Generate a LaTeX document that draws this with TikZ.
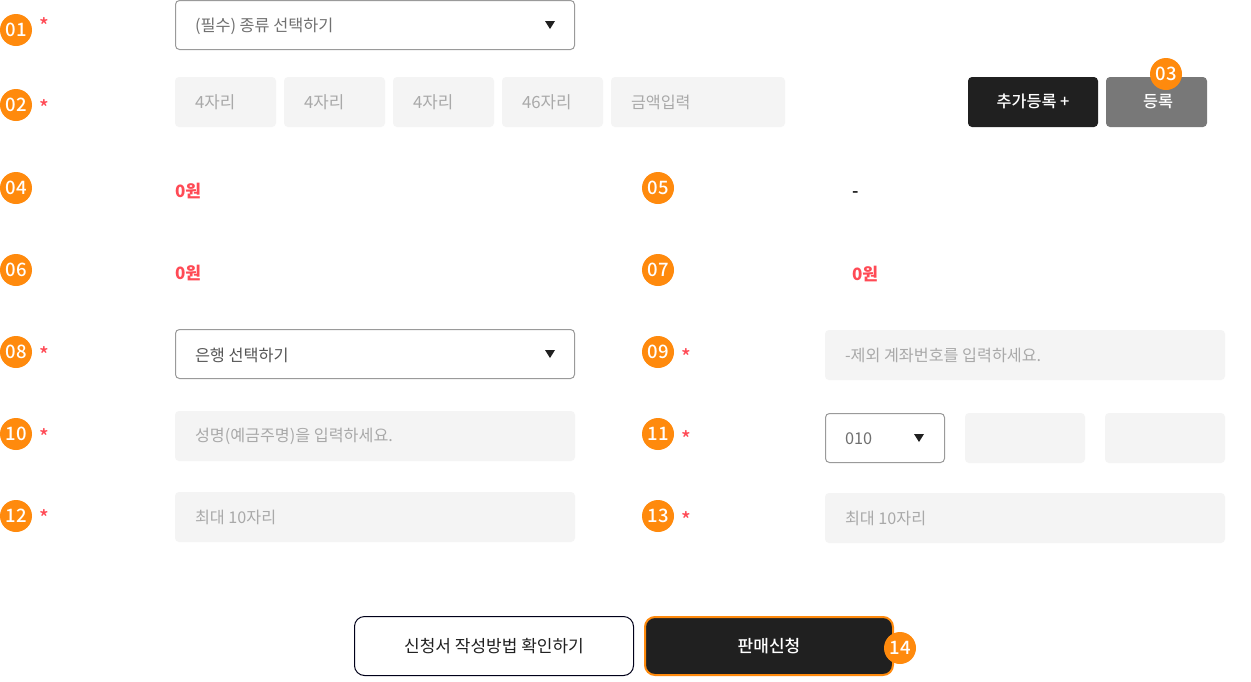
\documentclass[tikz,border=0pt]{standalone}
\usepackage{fontspec}
\setmainfont{Noto Sans CJK KR}
\newfontfamily\medfont{Noto Sans CJK KR Medium}
\definecolor{badge}{HTML}{FF8A0D}
\definecolor{fieldbg}{HTML}{F4F4F4}
\definecolor{hint}{HTML}{A9A9A9}
\definecolor{selborder}{HTML}{9A9A9A}
\definecolor{seltext}{HTML}{707070}
\definecolor{seldark}{HTML}{555555}
\definecolor{darkbtn}{HTML}{202020}
\definecolor{graybtn}{HTML}{787878}
\definecolor{redtext}{HTML}{FF4A55}
\tikzset{
  x=1pt,y=-1pt,
  every node/.style={outer sep=0pt},
  badgenode/.style={circle,fill=badge,minimum size=32pt,inner sep=0pt,text=white,font=\medfont\fontsize{18.5}{18}\selectfont},
  star/.style={text=redtext,font=\medfont\fontsize{20}{20}\selectfont,inner sep=0pt},
  selbox/.style={draw=selborder,fill=white,line width=1pt,rounded corners=4pt,anchor=north west,inner sep=0pt},
  field/.style={fill=fieldbg,rounded corners=4pt,anchor=north west,inner sep=0pt},
  hinttext/.style={text=hint,anchor=west,inner sep=0pt,font=\fontsize{16.2}{16}\selectfont},
  seltxt/.style={text=seltext,anchor=west,inner sep=0pt,font=\fontsize{16.3}{16}\selectfont},
  amount/.style={text=redtext,anchor=west,inner sep=0pt,font=\fontsize{17}{16}\selectfont\bfseries},
  arrowtri/.style={fill=darkbtn},
}
\newcommand{\fieldbox}[5]{% name x y w h
  \node[field,minimum width=#4pt,minimum height=#5pt] (#1) at (#2,#3) {};}
\newcommand{\selectbox}[5]{%
  \node[selbox,minimum width=#4pt,minimum height=#5pt] (#1) at (#2,#3) {};}
\newcommand{\tri}[2]{\fill[arrowtri] (#1-5,#2-4) -- (#1+5,#2-4) -- (#1,#2+4) -- cycle;}
\begin{document}
\begin{tikzpicture}
\useasboundingbox (0,0) rectangle (1251,681);
\fill[white] (0,0) rectangle (1251,681);
% row 1
\selectbox{s1}{175.5}{0.5}{399}{49}
\node[seltxt] (s1t) at (195,26) {(필수) 종류 선택하기};
\tri{550}{25}
% row 2
\fieldbox{f1}{175}{77}{101}{50}
\fieldbox{f2}{284}{77}{101}{50}
\fieldbox{f3}{393}{77}{101}{50}
\fieldbox{f4}{502}{77}{101}{50}
\fieldbox{f5}{611}{77}{174}{50}
\node[hinttext] (f1t) at (195,102.5) {\fontsize{16.8}{16}\selectfont 4자리};
\node[hinttext] (f2t) at (304,102.5) {\fontsize{16.8}{16}\selectfont 4자리};
\node[hinttext] (f3t) at (413,102.5) {\fontsize{16.8}{16}\selectfont 4자리};
\node[hinttext] (f4t) at (522,102.5) {\fontsize{16.8}{16}\selectfont 46자리};
\node[hinttext] (f5t) at (631,102.5) {금액입력};
\node[fill=darkbtn,rounded corners=4pt,anchor=north west,minimum width=130pt,minimum height=50pt,inner sep=0pt,text=white,font=\medfont\fontsize{16.3}{15}\selectfont,text depth=3pt,text height=13pt] (add) at (968,77) {추가등록 +};
\node[fill=graybtn,rounded corners=4pt,anchor=north west,minimum width=101pt,minimum height=50pt,inner sep=0pt,text=white,font=\medfont\fontsize{16.3}{15}\selectfont,text depth=3pt,text height=13pt] (reg) at (1106,77) {\hspace{3pt}등록};
% amounts
\node[amount] (a4) at (175,191) {0원};
\node[text=black,anchor=west,inner sep=0pt,font=\medfont\fontsize{18}{16}\selectfont] (a5) at (852,195) {-};
\node[amount] (a6) at (175,273) {0원};
\node[amount] (a7) at (852,274) {0원};
% row 8/9
\selectbox{s8}{175.5}{329.5}{399}{49}
\node[seltxt,text=seldark] (s8t) at (195,355) {은행 선택하기};
\tri{550}{354}
\fieldbox{f9}{825}{330}{400}{50}
\node[hinttext] (f9t) at (845,355.5) {-제외 계좌번호를 입력하세요.};
% row 10/11
\fieldbox{f10}{175}{411}{400}{50}
\node[hinttext] (f10t) at (195,436.5) {성명(예금주명)을 입력하세요.};
\selectbox{s11}{825.5}{413.5}{119}{49}
\node[seltxt] (s11t) at (845,439) {010};
\tri{919}{438}
\fieldbox{f11a}{965}{413}{120}{50}
\fieldbox{f11b}{1105}{413}{120}{50}
% row 12/13
\fieldbox{f12}{175}{492}{400}{50}
\node[hinttext] (f12t) at (195,517.5) {최대 10자리};
\fieldbox{f13}{825}{493}{400}{50}
\node[hinttext] (f13t) at (845,518.5) {최대 10자리};
% bottom buttons
\node[draw=black!90!blue,line width=1pt,fill=white,rounded corners=10pt,anchor=north west,minimum width=279pt,minimum height=59pt,inner sep=0pt,text=darkbtn,font=\fontsize{17}{16}\selectfont] (guide) at (354.5,616.5) {신청서 작성방법 확인하기};
\node[draw=badge,line width=2pt,fill=darkbtn,rounded corners=10pt,anchor=north west,minimum width=248pt,minimum height=58pt,inner sep=0pt,text=white,font=\medfont\fontsize{17}{16}\selectfont] (apply) at (645,617) {판매신청};
% badges
\node[badgenode] (b01) at (16,30) {01};
\node[badgenode] (b02) at (16,105) {02};
\node[badgenode] (b03) at (1166,74) {03};
\node[badgenode] (b04) at (16,188) {04};
\node[badgenode] (b05) at (658,188) {05};
\node[badgenode] (b06) at (16,270) {06};
\node[badgenode] (b07) at (658,270) {07};
\node[badgenode] (b08) at (16,352) {08};
\node[badgenode] (b09) at (658,352) {09};
\node[badgenode] (b10) at (16,434) {10};
\node[badgenode] (b11) at (658,434) {11};
\node[badgenode] (b12) at (16,516) {12};
\node[badgenode] (b13) at (658,516) {13};
\node[badgenode] (b14) at (900,648) {14};
% stars
\node[star] (st1) at (44,25) {*};
\node[star] (st2) at (44,107) {*};
\node[star] (st8) at (44,354) {*};
\node[star] (st9) at (686,356) {*};
\node[star] (st10) at (44,436) {*};
\node[star] (st11) at (686,438) {*};
\node[star] (st12) at (44,517) {*};
\node[star] (st13) at (686,519) {*};
\end{tikzpicture}
\end{document}
